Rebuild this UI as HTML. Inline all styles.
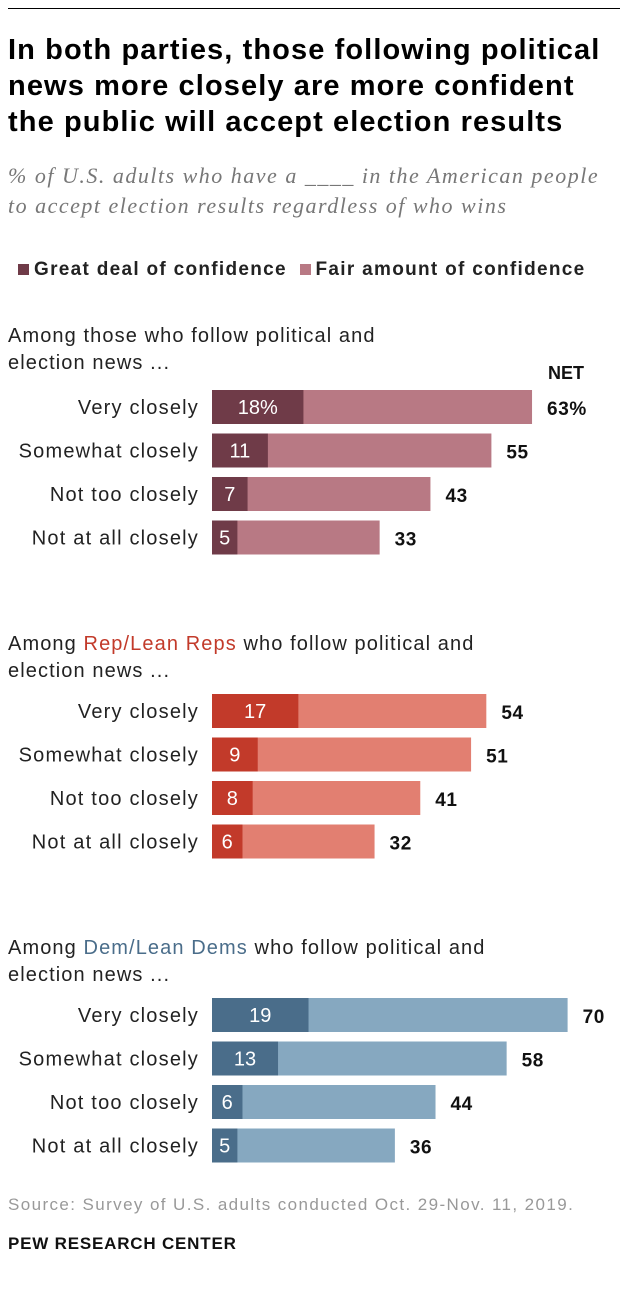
<!DOCTYPE html>
<html><head><meta charset="utf-8"><style>
body{margin:0;width:628px;height:1294px;background:#fff;font-family:"Liberation Sans",sans-serif;position:relative;overflow:hidden}
.a{position:absolute;white-space:nowrap}
</style></head><body>
<div class="a" style="left:8px;top:8px;width:612px;height:1px;background:#000"></div>
<div class="a" style="left:8px;top:32px;font-size:29px;letter-spacing:1.1px;font-weight:bold;line-height:36px;color:#000">In both parties, those following political<br>news more closely are more confident<br>the public will accept election results</div>
<div class="a" style="left:8px;top:161px;font-family:'Liberation Serif',serif;font-style:italic;font-size:22px;letter-spacing:1.5px;line-height:30px;color:#777">% of U.S. adults who have a ____ in the American people<br>to accept election results regardless of who wins</div>
<div class="a" style="left:18px;top:259px;font-size:19px;letter-spacing:1.3px;font-weight:bold;color:#222">
<span><span style="display:inline-block;width:11px;height:11px;background:#6f3b48;margin-right:5px"></span>Great deal of confidence</span>
<span style="margin-left:6px"><span style="display:inline-block;width:11px;height:11px;background:#b87984;margin-right:5px"></span>Fair amount of confidence</span></div>
<svg id="chart" class="a" style="left:0;top:0" width="628" height="1294"></svg>
<div class="a" style="left:8px;top:1195px;font-size:17px;letter-spacing:1.4px;color:#999">Source: Survey of U.S. adults conducted Oct. 29-Nov. 11, 2019.</div>
<div class="a" style="left:8px;top:1234px;font-size:17px;letter-spacing:0.8px;font-weight:bold;color:#111">PEW RESEARCH CENTER</div>
<script>
const categories=["Very closely","Somewhat closely","Not too closely","Not at all closely"];
const groupNames=["all","rep","dem"];
const greatAll=[18,11,7,5];
const netAll=[63,55,43,33];
const greatRep=[17,9,8,6];
const netRep=[54,51,41,32];
const greatDem=[19,13,6,5];
const netDem=[70,58,44,36];
const svg=document.getElementById('chart');
const NS='http://www.w3.org/2000/svg';
const x0=212,k=5.08;
const xs=v=>v*k;
const groups=[
 {great:greatAll,net:netAll,top:390,dark:'#6f3b48',light:'#b87984',hy:322,head:['Among those who follow political and','election news ...'],hl:null},
 {great:greatRep,net:netRep,top:694,dark:'#c23a2a',light:'#e27f71',hy:630,head:['Among Rep/Lean Reps who follow political and','election news ...'],hl:['Rep/Lean Reps','#c23a2a']},
 {great:greatDem,net:netDem,top:998,dark:'#4a6d8a',light:'#86a8c0',hy:934,head:['Among Dem/Lean Dems who follow political and','election news ...'],hl:['Dem/Lean Dems','#4a6d8a']}
];
function t(x,y,s,o){const e=document.createElementNS(NS,'text');e.setAttribute('x',x);e.setAttribute('y',y);e.textContent=s;e.setAttribute('font-family','Liberation Sans, sans-serif');for(const a in o)e.setAttribute(a,o[a]);svg.appendChild(e);return e;}
groups.forEach((g,gi)=>{
 const h=t(8,g.hy+20,'',{'font-size':20,'letter-spacing':1.1,fill:'#222'});
 
 
 if(g.hl){const p=g.head[0].split(g.hl[0]);const a=document.createElementNS(NS,'tspan');a.textContent=p[0];h.appendChild(a);const b=document.createElementNS(NS,'tspan');b.textContent=g.hl[0];b.setAttribute('fill',g.hl[1]);h.appendChild(b);const c=document.createElementNS(NS,'tspan');c.textContent=p[1];h.appendChild(c);}else h.textContent=g.head[0];
 const h2=t(8,g.hy+47,g.head[1],{'font-size':20,'letter-spacing':1.1,fill:'#222'});
 
 
 if(gi===0){const n=t(566,g.top-11,'NET',{'font-size':18,'font-weight':'bold','text-anchor':'middle',fill:'#111'});}
 categories.forEach((c,i)=>{
  const y=g.top+i*43.5,hh=34;
  const l=t(199,y+24,c,{'font-size':20,'letter-spacing':1.2,'text-anchor':'end',fill:'#222'});
  
  
  const r2=document.createElementNS(NS,'rect');r2.setAttribute('x',x0);r2.setAttribute('y',y);r2.setAttribute('width',xs(g.net[i]));r2.setAttribute('height',hh);r2.setAttribute('fill',g.light);
  
  
  svg.appendChild(r2);
  const r1=document.createElementNS(NS,'rect');r1.setAttribute('x',x0);r1.setAttribute('y',y);r1.setAttribute('width',xs(g.great[i]));r1.setAttribute('height',hh);r1.setAttribute('fill',g.dark);
  
  
  svg.appendChild(r1);
  const gl=t(x0+xs(g.great[i])/2,y+24,g.great[i]+(gi===0&&i===0?'%':''),{'font-size':20,'text-anchor':'middle',fill:'#fff'});
  
  
  const nl=t(x0+xs(g.net[i])+15,y+25,g.net[i]+(gi===0&&i===0?'%':''),{'font-size':19,'letter-spacing':0.6,'font-weight':'bold',fill:'#111'});
  
  
 });
});
</script>
</body></html>
